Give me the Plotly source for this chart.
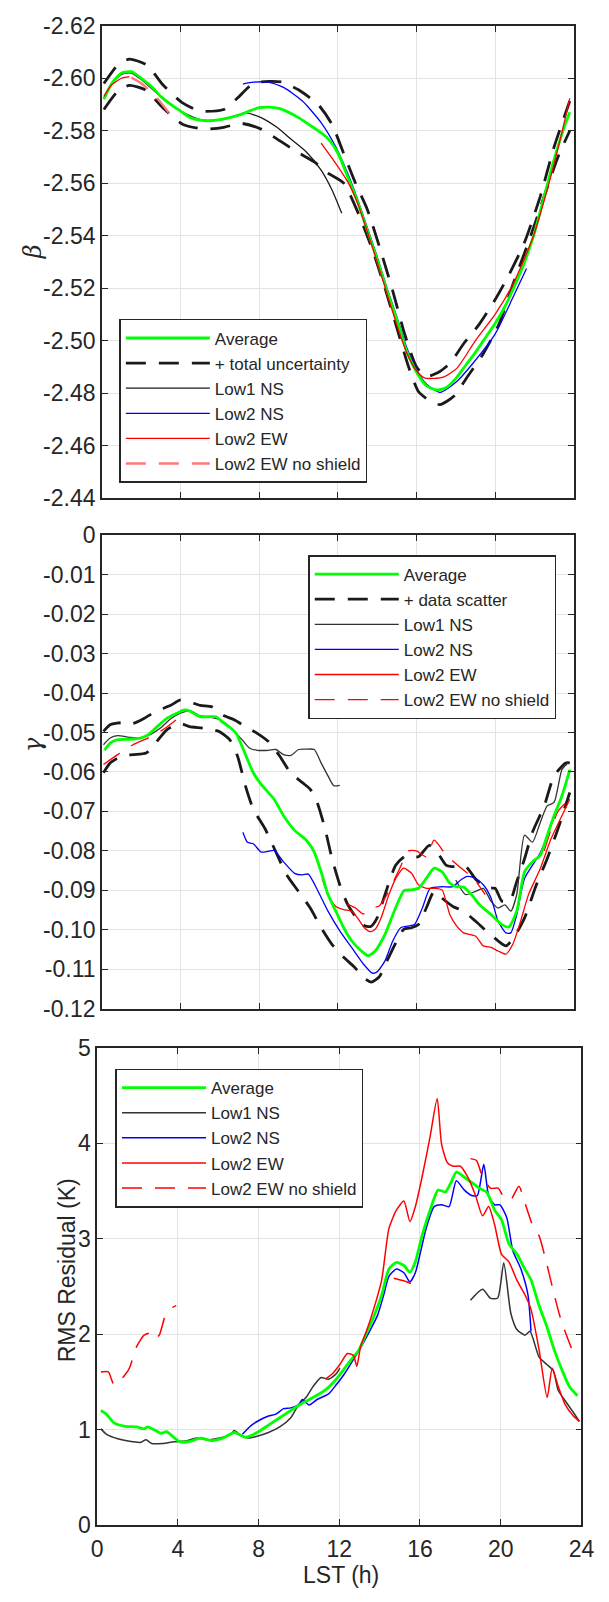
import plotly.graph_objects as go

# ---------------- Panel 1: beta ----------------
b_avg_x = [0.1,0.5,1.0,1.5,2.0,2.5,3.0,3.5,4.0,4.5,5.0,5.5,6.0,6.5,7.0,7.5,8.0,8.5,9.0,9.5,10.0,10.5,11.0,11.5,12.0,12.5,13.0,13.5,14.0,14.5,15.0,15.5,16.0,16.5,17.0,17.5,18.0,18.5,19.0,19.5,20.0,20.5,21.0,21.5,22.0,22.5,23.0,23.5,23.8]
b_avg_y = [-2.592,-2.598,-2.602,-2.6025,-2.600,-2.597,-2.593,-2.590,-2.5875,-2.585,-2.584,-2.5838,-2.5842,-2.585,-2.586,-2.5875,-2.5888,-2.589,-2.5885,-2.587,-2.585,-2.5825,-2.580,-2.577,-2.5715,-2.5625,-2.553,-2.542,-2.531,-2.519,-2.508,-2.496,-2.488,-2.4828,-2.4812,-2.482,-2.4855,-2.4905,-2.4955,-2.501,-2.5065,-2.513,-2.521,-2.530,-2.541,-2.555,-2.569,-2.581,-2.587]

b_up_x = [0.1,0.8,1.4,2.3,3.1,4.1,5.0,6.2,6.9,7.7,8.5,9.2,10.0,11.0,11.7,12.3,12.9,13.5,14.2,14.8,15.4,16.0,16.5,17.1,17.7,18.4,19.2,20.0,20.7,21.5,22.3,23.0,23.8]
b_up_y = [-2.598,-2.605,-2.6073,-2.605,-2.5975,-2.5906,-2.5875,-2.5881,-2.5925,-2.5981,-2.5988,-2.5985,-2.5956,-2.590,-2.5825,-2.5713,-2.560,-2.550,-2.5338,-2.5188,-2.5025,-2.490,-2.4863,-2.4878,-2.4913,-2.4988,-2.5063,-2.5156,-2.525,-2.5375,-2.555,-2.5738,-2.5913]
b_lo_x = [0.1,0.8,1.4,2.2,3.1,4.1,5.2,6.2,7.1,8.1,8.9,9.8,10.8,11.5,12.3,13.1,13.8,14.4,15.0,15.6,16.1,16.7,17.2,17.9,18.6,19.4,20.2,20.9,21.7,22.5,23.2,23.8]
b_lo_y = [-2.5881,-2.595,-2.5973,-2.5956,-2.5888,-2.5825,-2.5806,-2.5813,-2.5828,-2.5806,-2.5769,-2.5725,-2.5681,-2.5638,-2.560,-2.5475,-2.5338,-2.520,-2.505,-2.490,-2.4806,-2.4769,-2.4756,-2.4788,-2.4863,-2.495,-2.5063,-2.5213,-2.5375,-2.555,-2.570,-2.580]

b_l1_x = [0.1,0.5,1.0,1.5,2.0,3.0,4.0,5.0,6.0,7.0,7.3,8.1,8.9,9.6,10.4,11.15,11.7,12.2]
b_l1_y = [-2.5925,-2.598,-2.6015,-2.602,-2.5995,-2.593,-2.5875,-2.5842,-2.584,-2.5862,-2.5869,-2.585,-2.5813,-2.5769,-2.5719,-2.565,-2.5575,-2.5485]

b_ns_x = [7.17,7.7,8.47,9.24,10.2,11.15,11.9,12.5,13.0,13.5,14.0,14.5,15.0,15.5,16.0,16.5,17.2,18.05,19.0,20.0,20.9,21.6]
b_ns_y = [-2.5978,-2.5985,-2.5985,-2.5965,-2.5913,-2.5831,-2.5738,-2.5638,-2.554,-2.543,-2.532,-2.520,-2.509,-2.4975,-2.489,-2.4835,-2.4803,-2.4844,-2.4925,-2.5025,-2.5163,-2.5275]

b_ew_x = [0.1,0.5,1.0,1.4,None,11.15,11.9,12.5,13.0,13.5,14.0,14.5,15.0,15.5,16.0,16.4,16.9,17.4,18.05,19.0,20.0,20.9,21.9,22.65,23.4,23.8]
b_ew_y = [-2.5931,-2.5975,-2.600,-2.6006,None,-2.5753,-2.5675,-2.5606,-2.5525,-2.5415,-2.530,-2.518,-2.506,-2.4955,-2.4885,-2.4858,-2.4856,-2.4862,-2.4894,-2.500,-2.510,-2.5213,-2.5388,-2.5575,-2.5794,-2.5923]

b_nos_x = [1.5,2.0,2.8,3.4]
b_nos_y = [-2.6003,-2.5981,-2.5925,-2.5869]

# ---------------- Panel 2: gamma ----------------
g_avg_x = [0.13,0.42,0.8,1.38,1.96,2.34,2.72,3.3,3.87,4.16,4.45,5.0,5.8,6.17,6.56,6.84,7.13,7.7,8.09,8.76,9.24,9.8,10.4,10.8,11.2,11.5,11.9,12.3,12.7,13.2,13.55,13.9,14.4,14.8,15.37,15.75,16.1,16.5,16.9,17.3,17.7,18.05,18.4,18.8,19.2,19.8,20.35,20.7,21.1,21.5,21.9,22.3,22.65,23.0,23.4,23.8]
g_avg_y = [-0.0545,-0.0527,-0.0518,-0.0517,-0.0514,-0.0506,-0.0489,-0.0464,-0.045,-0.0443,-0.0445,-0.046,-0.046,-0.0475,-0.0489,-0.0503,-0.0535,-0.0602,-0.0631,-0.0669,-0.0711,-0.0748,-0.0773,-0.0803,-0.0861,-0.0911,-0.0953,-0.0995,-0.1028,-0.1054,-0.1066,-0.1054,-0.1012,-0.0962,-0.0901,-0.0899,-0.0895,-0.087,-0.0844,-0.0853,-0.0882,-0.0891,-0.0892,-0.0911,-0.0936,-0.0962,-0.0987,-0.0993,-0.0953,-0.0853,-0.0828,-0.0811,-0.0761,-0.0711,-0.0661,-0.0594]

g_up_x = [0.08,0.42,1.0,1.58,2.15,2.72,3.5,3.97,4.45,5.0,5.6,6.17,6.75,7.3,7.9,8.47,9.05,9.6,10.2,10.6,10.95,11.35,11.7,12.1,12.5,12.95,13.4,13.7,14.0,14.4,14.95,15.5,16.1,16.65,17.05,17.5,17.8,18.5,19.05,19.6,20.0,20.35,20.75,21.1,21.5,21.9,22.5,23.0,23.6,23.8]
g_up_y = [-0.0497,-0.048,-0.0475,-0.0477,-0.0464,-0.0447,-0.0431,-0.0418,-0.0422,-0.0431,-0.0435,-0.0456,-0.0468,-0.0485,-0.0502,-0.0523,-0.056,-0.0602,-0.0627,-0.0644,-0.0677,-0.0744,-0.0819,-0.0886,-0.0936,-0.097,-0.0991,-0.0991,-0.097,-0.0911,-0.0836,-0.0811,-0.0815,-0.0786,-0.0803,-0.0836,-0.084,-0.084,-0.0874,-0.0895,-0.0895,-0.0928,-0.0928,-0.0878,-0.082,-0.0753,-0.0686,-0.061,-0.0577,-0.0577]
g_lo_x = [0.08,0.42,1.0,1.58,2.25,2.72,3.3,3.97,4.45,5.2,5.95,6.5,6.9,7.3,7.7,8.3,8.85,9.4,10.0,10.6,11.15,11.7,12.3,12.85,13.4,13.7,14.1,14.5,15.0,15.35,15.75,16.1,16.5,16.9,17.3,17.85,18.4,19.0,19.55,20.15,20.55,20.95,21.5,22.1,22.65,23.2,23.8]
g_lo_y = [-0.0602,-0.0577,-0.056,-0.0556,-0.0552,-0.0527,-0.0493,-0.0477,-0.0485,-0.0489,-0.0497,-0.0518,-0.056,-0.0635,-0.0694,-0.0744,-0.0803,-0.0861,-0.0903,-0.0945,-0.0995,-0.1037,-0.107,-0.1095,-0.1125,-0.1133,-0.112,-0.1079,-0.1028,-0.0999,-0.0995,-0.0987,-0.0945,-0.0903,-0.092,-0.0941,-0.0953,-0.0978,-0.1003,-0.1028,-0.1041,-0.102,-0.097,-0.0886,-0.082,-0.0744,-0.0652]

g_l1_x = [0.08,0.42,0.8,1.38,1.96,2.5,3.0,3.5,4.0,4.5,5.0,5.5,6.0,6.5,6.84,7.13,7.5,7.9,8.47,8.85,9.24,9.62,10.0,10.4,10.8,11.15,11.5,11.8,12.1,None,18.0,18.5,19.0,19.4,19.8,20.15,20.5,20.8,21.1,21.5,21.9,22.3,22.65,23.0,23.4,23.7]
g_l1_y = [-0.0531,-0.0514,-0.0508,-0.0512,-0.0514,-0.0504,-0.0488,-0.0465,-0.0451,-0.0445,-0.0458,-0.0461,-0.0468,-0.0485,-0.0503,-0.0518,-0.0539,-0.0545,-0.0545,-0.0543,-0.0556,-0.0558,-0.0543,-0.0542,-0.0543,-0.0577,-0.061,-0.0635,-0.0634,None,-0.0874,-0.0911,-0.0903,-0.0895,-0.0928,-0.0945,-0.0937,-0.0953,-0.0911,-0.076,-0.0778,-0.0728,-0.0686,-0.0677,-0.0594,-0.0577]

g_ns_x = [7.17,7.4,7.7,8.1,8.47,8.76,9.24,9.8,10.2,10.5,11.0,11.5,12.1,12.7,13.3,13.75,14.0,14.4,14.8,15.2,15.55,15.9,16.3,16.7,17.3,17.85,18.25,18.6,19.0,19.4,19.8,20.15,20.55,20.8,21.1,21.5,22.3,23.0,23.8]
g_ns_y = [-0.0753,-0.0778,-0.0782,-0.0803,-0.0801,-0.0799,-0.0828,-0.0857,-0.0861,-0.0859,-0.0903,-0.0953,-0.1003,-0.1045,-0.1087,-0.111,-0.1107,-0.1079,-0.1028,-0.0995,-0.0991,-0.0987,-0.0945,-0.0895,-0.0891,-0.0891,-0.0874,-0.0865,-0.087,-0.0886,-0.092,-0.0978,-0.1008,-0.1008,-0.0962,-0.0870,-0.0805,-0.0715,-0.0600]

g_ew_x = [11.2,11.5,11.9,12.3,12.7,13.0,13.35,13.65,13.9,14.2,14.6,14.95,15.35,15.75,16.1,16.5,16.9,17.3,17.7,18.05,18.4,19.0,19.4,19.8,20.15,20.55,20.9,21.3,21.7,22.3,22.85,23.4,23.8]
g_ew_y = [-0.087,-0.0911,-0.0941,-0.0949,-0.0953,-0.097,-0.0995,-0.1005,-0.0999,-0.097,-0.0911,-0.087,-0.0844,-0.0857,-0.0886,-0.0895,-0.0895,-0.0899,-0.0962,-0.0991,-0.1008,-0.1016,-0.1041,-0.1045,-0.1054,-0.1062,-0.1037,-0.0978,-0.0911,-0.0845,-0.0769,-0.0711,-0.0669]

g_nos_x = [0.08,0.8,1.58,2.34,3.1,3.77,None,12.5,12.9,13.3,13.7,14.1,14.5,15.1,15.6,16.0,16.5,16.9,17.5,18.3,18.9,19.5,None,22.5,23.2,23.8]
g_nos_y = [-0.0581,-0.0556,-0.0531,-0.0514,-0.0493,-0.0468,None,-0.0935,-0.0945,-0.0960,-0.0945,-0.094,-0.0911,-0.085,-0.080,-0.080,-0.0815,-0.0773,-0.081,-0.0845,-0.087,-0.0911,None,-0.0800,-0.0700,-0.0669]

# ---------------- Panel 3: RMS residual ----------------
r_avg_x = [0.19,0.47,0.84,1.4,1.96,2.33,2.5,2.9,3.17,3.45,3.73,4.1,4.57,5.13,5.69,6.25,6.8,7.37,7.93,8.49,9.05,9.6,10.17,10.7,11.3,11.85,12.4,12.97,13.34,13.7,14.1,14.46,14.83,15.2,15.5,15.77,16.1,16.5,16.9,17.26,17.54,17.8,18.2,18.56,18.94,19.3,19.7,20.04,20.4,20.8,21.2,21.5,21.9,22.3,22.65,23.0,23.4,23.8]
r_avg_y = [1.20,1.16,1.07,1.035,1.028,1.008,1.028,0.99,0.962,0.978,0.931,0.874,0.874,0.912,0.885,0.912,0.97,0.92,0.97,1.047,1.124,1.20,1.278,1.336,1.413,1.528,1.682,1.836,2.009,2.18,2.41,2.683,2.752,2.72,2.65,2.76,3.03,3.30,3.51,3.49,3.59,3.70,3.645,3.59,3.53,3.49,3.30,3.20,2.95,2.84,2.68,2.57,2.30,2.07,1.836,1.644,1.451,1.355]

r_l1_x = [0.19,0.47,1.03,1.77,2.15,2.43,2.7,3.26,3.82,4.38,4.94,5.5,6.06,6.62,6.8,7.1,7.46,7.93,8.49,9.05,9.6,9.98,10.35,10.7,11.1,11.47,11.85,12.03,None,18.5,19.1,19.5,19.85,20.15,20.5,20.8,21.2,21.45,21.9,22.3,22.6,22.85,23.2,23.6,23.9]
r_l1_y = [1.008,0.951,0.905,0.874,0.866,0.893,0.855,0.855,0.874,0.881,0.912,0.893,0.912,0.951,0.99,0.943,0.912,0.931,0.97,1.028,1.124,1.259,1.336,1.451,1.547,1.528,1.586,1.644,None,2.355,2.47,2.375,2.38,2.75,2.22,2.05,1.99,2.03,1.76,1.68,1.62,1.41,1.30,1.18,1.085]

r_ns_x = [7.2,7.55,7.93,8.49,8.86,9.24,9.6,9.98,10.17,10.5,10.9,11.47,11.85,12.2,12.6,13.15,13.5,13.9,14.2,14.46,14.83,15.2,15.5,15.77,16.04,16.3,16.7,17.07,17.44,17.8,18.2,18.56,18.84,19.16,19.4,19.7,19.96,20.3,20.6,21.0,21.35,21.5]
r_ns_y = [0.951,1.028,1.085,1.143,1.162,1.22,1.228,1.259,1.316,1.259,1.316,1.374,1.47,1.567,1.70,1.894,2.03,2.20,2.41,2.606,2.683,2.644,2.548,2.644,2.875,3.106,3.337,3.356,3.337,3.607,3.51,3.453,3.453,3.78,3.453,3.356,3.356,3.22,2.875,2.683,2.413,2.03]

r_ew_x = [11.3,11.66,12.03,12.4,12.7,12.87,13.06,13.34,13.7,14.1,14.46,14.83,15.2,15.5,15.77,16.1,16.5,16.85,17.07,17.35,17.63,18.0,18.37,18.75,19.1,19.4,19.7,20.04,20.4,20.8,21.2,21.5,21.9,22.3,22.55,22.85,23.2,23.6,23.9]
r_ew_y = [1.528,1.586,1.682,1.797,1.778,1.663,1.874,2.028,2.26,2.567,3.106,3.30,3.395,3.18,3.337,3.645,4.07,4.47,3.99,3.80,3.76,3.76,3.645,3.453,3.24,3.337,3.145,2.837,2.76,2.567,2.413,2.26,1.836,1.336,1.644,1.451,1.259,1.143,1.085]

r_nos_x = [0.19,0.56,0.84,1.21,1.59,1.96,2.33,2.61,2.8,3.08,3.36,3.73,3.92,None,14.7,15.2,15.55,None,18.5,18.8,19.1,19.5,19.87,20.2,20.5,20.9,21.2,21.6,21.9,22.3,22.65,23.0,23.5]
r_nos_y = [1.605,1.605,1.47,1.53,1.64,1.87,1.99,2.01,1.95,1.99,2.18,2.28,2.30,None,2.587,2.56,2.53,None,3.84,3.82,3.645,3.53,3.53,3.42,3.41,3.55,3.375,3.13,3.03,2.72,2.413,2.14,1.855]

x_ticks = [0, 4, 8, 12, 16, 20, 24]
b_ticks = [-2.62, -2.60, -2.58, -2.56, -2.54, -2.52, -2.50, -2.48, -2.46, -2.44]
b_tick_text = ["-2.62", "-2.60", "-2.58", "-2.56", "-2.54", "-2.52", "-2.50", "-2.48", "-2.46", "-2.44"]
g_ticks = [0, -0.01, -0.02, -0.03, -0.04, -0.05, -0.06, -0.07, -0.08, -0.09, -0.10, -0.11, -0.12]
g_tick_text = ["0", "-0.01", "-0.02", "-0.03", "-0.04", "-0.05", "-0.06", "-0.07", "-0.08", "-0.09", "-0.10", "-0.11", "-0.12"]
r_ticks = [0, 1, 2, 3, 4, 5]

FONT = "Liberation Sans, Arial, sans-serif"
TXT = "#262626"
GREEN = "#00ff00"
BLUE = "#0000ff"
RED = "#ff0000"
PINK = "#ff7777"
BLK = "#1a1a1a"
GRAY = "#333333"
DASH = "20px,13px"

fig = go.Figure()

def add(x, y, ax, name, color, width, dash="solid", legend="legend", show=True, rank=1):
    fig.add_trace(go.Scatter(
        x=x, y=y, mode="lines", name=name, xaxis="x" + ax, yaxis="y" + ax,
        line=dict(color=color, width=width, dash=dash, shape="spline", smoothing=0.6),
        connectgaps=False, legend=legend, showlegend=show, legendrank=rank,
        hoverinfo="skip"))

# panel 1
add(b_up_x, b_up_y, "", "+ total uncertainty", BLK, 2.8, DASH, "legend", True, 2)
add(b_lo_x, b_lo_y, "", "lo", BLK, 2.8, DASH, "legend", False, 2)
add(b_l1_x, b_l1_y, "", "Low1 NS", BLK, 1.3, "solid", "legend", True, 3)
add(b_ns_x, b_ns_y, "", "Low2 NS", BLUE, 1.3, "solid", "legend", True, 4)
add(b_avg_x, b_avg_y, "", "Average", GREEN, 2.8, "solid", "legend", True, 1)
add(b_ew_x, b_ew_y, "", "Low2 EW", RED, 1.3, "solid", "legend", True, 5)
add(b_nos_x, b_nos_y, "", "Low2 EW no shield", PINK, 2.4, DASH, "legend", True, 6)

# panel 2
add(g_up_x, g_up_y, "2", "+ data scatter", BLK, 2.8, DASH, "legend2", True, 2)
add(g_lo_x, g_lo_y, "2", "lo", BLK, 2.8, DASH, "legend2", False, 2)
add(g_l1_x, g_l1_y, "2", "Low1 NS", GRAY, 1.3, "solid", "legend2", True, 3)
add(g_ns_x, g_ns_y, "2", "Low2 NS", BLUE, 1.3, "solid", "legend2", True, 4)
add(g_ew_x, g_ew_y, "2", "Low2 EW", RED, 1.3, "solid", "legend2", True, 5)
add(g_nos_x, g_nos_y, "2", "Low2 EW no shield", RED, 1.3, DASH, "legend2", True, 6)
add(g_avg_x, g_avg_y, "2", "Average", GREEN, 2.8, "solid", "legend2", True, 1)

# panel 3
add(r_l1_x, r_l1_y, "3", "Low1 NS", GRAY, 1.5, "solid", "legend3", True, 2)
add(r_ns_x, r_ns_y, "3", "Low2 NS", BLUE, 1.5, "solid", "legend3", True, 3)
add(r_avg_x, r_avg_y, "3", "Average", GREEN, 2.8, "solid", "legend3", True, 1)
add(r_ew_x, r_ew_y, "3", "Low2 EW", RED, 1.5, "solid", "legend3", True, 4)
add(r_nos_x, r_nos_y, "3", "Low2 EW no shield", RED, 1.5, DASH, "legend3", True, 5)

W, H = 609, 1602
def px_x(p): return p / W
def px_y(p): return 1 - p / H

axis_common = dict(showline=True, linecolor=TXT, linewidth=1.5, mirror="ticks",
                   ticks="inside", ticklen=6, tickwidth=1.3, tickcolor=TXT,
                   showgrid=True, gridcolor="#e3e3e3", gridwidth=1, zeroline=False,
                   tickfont=dict(family=FONT, size=23, color=TXT))

legend_common = dict(bgcolor="white", bordercolor=TXT, borderwidth=1.5,
                     font=dict(family=FONT, size=17, color=TXT),
                     itemwidth=84, xanchor="left", yanchor="top", traceorder="normal",
                     tracegroupgap=0)

ann_common = dict(xref="paper", yref="paper", showarrow=False,
                  xanchor="center", yanchor="middle")

fig.update_layout(
    width=W, height=H, autosize=False, margin=dict(l=0, r=0, t=0, b=0),
    paper_bgcolor="white", plot_bgcolor="white",
    xaxis=dict(domain=[px_x(99), px_x(586)], range=[0, 24], tickvals=x_ticks,
               showticklabels=False, anchor="y", **axis_common),
    yaxis=dict(domain=[px_y(493), px_y(13)], range=[-2.44, -2.62], tickvals=b_ticks,
               ticktext=b_tick_text, anchor="x", **axis_common),
    xaxis2=dict(domain=[px_x(99), px_x(586)], range=[0, 24], tickvals=x_ticks,
                showticklabels=False, anchor="y2", **axis_common),
    yaxis2=dict(domain=[px_y(1012), px_y(531)], range=[-0.12, 0], tickvals=g_ticks,
                ticktext=g_tick_text, anchor="x2", **axis_common),
    xaxis3=dict(domain=[px_x(94), px_x(594)], range=[0, 24], tickvals=x_ticks,
                anchor="y3", ticklabelstandoff=3, **axis_common),
    yaxis3=dict(domain=[px_y(1537), px_y(1052)], range=[0, 5], tickvals=r_ticks,
                anchor="x3", **axis_common),
    legend=dict(x=px_x(117), y=px_y(311), **legend_common),
    legend2=dict(x=px_x(312), y=px_y(551), **legend_common),
    legend3=dict(x=px_x(113), y=px_y(1073), **legend_common),
    annotations=[
        dict(text="<i>β</i>", x=px_x(28), y=px_y(243), textangle=-90,
             font=dict(family="DejaVu Serif", size=24, color=TXT), **ann_common),
        dict(text="<i>γ</i>", x=px_x(28), y=px_y(744), textangle=-90,
             font=dict(family="DejaVu Serif", size=24, color=TXT), **ann_common),
        dict(text="RMS Residual (K)", x=px_x(63), y=px_y(1278), textangle=-90,
             font=dict(family=FONT, size=23, color=TXT), **ann_common),
        dict(text="LST (h)", x=px_x(346), y=px_y(1588),
             font=dict(family=FONT, size=23, color=TXT), **ann_common),
    ],
)

page_fix = ("document.documentElement.style.margin='0';"
            "document.body.style.margin='0';document.body.style.padding='0';"
            "document.documentElement.style.overflow='hidden';")

fig.write_html("out.html", config={"responsive": False}, post_script=page_fix)
